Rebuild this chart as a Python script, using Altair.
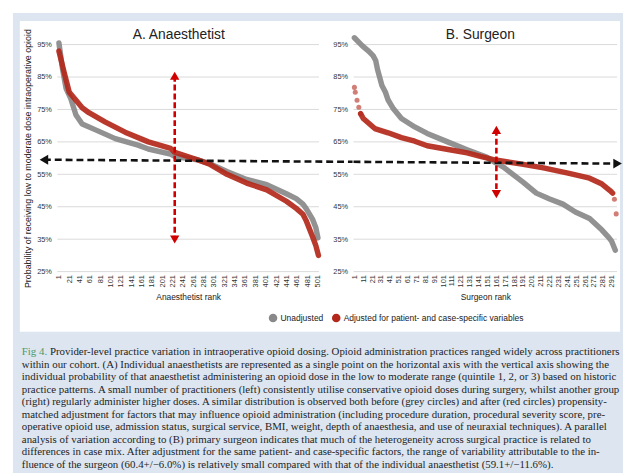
import altair as alt
import pandas as pd

# ---------------- data ----------------
SERIES = ["Unadjusted", "Adjusted for patient- and case-specific variables"]
SERIES_COLORS = ["#898989", "#b3281b"]

grid_pct = [25, 35, 45, 55, 65, 75, 85, 95]

anaes_ticks = [1, 21, 41, 61, 81, 101, 121, 141, 161, 181, 201, 221, 241, 261,
               281, 301, 321, 341, 361, 381, 401, 421, 441, 461, 481, 501]
surg_ticks = [1, 11, 21, 31, 41, 51, 61, 71, 81, 91, 101, 111, 121, 131, 141,
              151, 161, 171, 181, 191, 201, 211, 221, 231, 241, 251, 261, 271, 281, 291]

# A. Anaesthetist
anaes_unadj_rank = [1, 8, 15, 24, 34, 46, 72, 110, 154, 174, 217, 225, 269, 294,
                    326, 364, 403, 441, 460, 473, 479, 492, 498, 502]
anaes_unadj_pct = [95.5, 87.5, 81.4, 78.3, 73.3, 70.5, 68.7, 66.0, 64.0, 62.8, 61.2,
                   60.5, 59.5, 58.2, 55.9, 53.4, 51.8, 49.0, 47.5, 45.8, 44.5, 41.0,
                   38.5, 35.4]
anaes_adj_rank = [1, 11, 21, 34, 46, 59, 91, 129, 174, 217, 225, 269, 294, 326, 364,
                  403, 441, 460, 473, 479, 492, 498, 503]
anaes_adj_pct = [93.0, 86.5, 80.3, 77.8, 75.5, 74.0, 71.1, 68.0, 65.0, 63.0, 61.8,
                 59.5, 58.0, 55.0, 52.3, 50.2, 46.7, 44.5, 42.7, 40.8, 35.6, 33.0, 30.0]

# B. Surgeon
surg_unadj_rank = [1, 10, 17, 22, 25, 27, 32, 36, 39, 45, 54, 69, 83, 106, 128, 143,
                   150, 160, 169, 177, 191, 206, 221, 236, 250, 266, 280, 288, 291, 295]
surg_unadj_pct = [97.1, 94.6, 93.0, 91.6, 90.1, 87.4, 82.4, 80.3, 77.9, 75.2, 72.2,
                  69.6, 67.6, 65.0, 62.6, 61.0, 60.3, 58.6, 57.2, 55.5, 52.6, 49.2,
                  47.4, 45.8, 43.4, 41.4, 37.8, 35.4, 34.3, 31.6]
surg_adj_rank = [8, 11, 24, 39, 54, 69, 83, 110, 128, 143, 160, 188, 214, 243, 266,
                 280, 289, 292]
surg_adj_pct = [73.7, 72.2, 69.1, 67.8, 66.3, 65.2, 63.8, 62.5, 61.6, 60.5, 59.4,
                58.2, 57.0, 55.3, 53.8, 52.0, 50.0, 49.2]
surg_adj_tail_rank = [1, 2, 4, 6, 8, 294, 296]
surg_adj_tail_pct = [81.8, 80.3, 77.8, 75.7, 73.7, 47.3, 42.8]

# annotation arrows (spread of the adjusted values, overall mean)
anaes_spread = {"rank": 225, "top": 85.4, "bottom": 34.9}
surg_spread = {"rank": 161, "top": 68.7, "bottom": 48.9}
mean_a = {"rank": -28, "rank_end": 569, "pct": 59.5, "pct_end": 58.85}
mean_b = {"rank": 0, "rank_end": 297.6, "pct": 58.85, "pct_end": 58.3}

title_a = "A. Anaesthetist"
title_b = "B. Surgeon"
x_title_a = "Anaesthetist rank"
x_title_b = "Surgeon rank"
y_title = "Probability of receiving low to moderate dose intraoperative opioid"

caption_fig = "Fig 4."
caption_first = ("Provider-level practice variation in intraoperative opioid dosing. "
                 "Opioid administration practices ranged widely across practitioners")
caption_rest = [
    "within our cohort. (A) Individual anaesthetists are represented as a single point on the horizontal axis with the vertical axis showing the",
    "individual probability of that anaesthetist administering an opioid dose in the low to moderate range (quintile 1, 2, or 3) based on historic",
    "practice patterns. A small number of practitioners (left) consistently utilise conservative opioid doses during surgery, whilst another group",
    "(right) regularly administer higher doses. A similar distribution is observed both before (grey circles) and after (red circles) propensity-",
    "matched adjustment for factors that may influence opioid administration (including procedure duration, procedural severity score, pre-",
    "operative opioid use, admission status, surgical service, BMI, weight, depth of anaesthesia, and use of neuraxial techniques). A parallel",
    "analysis of variation according to (B) primary surgeon indicates that much of the heterogeneity across surgical practice is related to",
    "differences in case mix. After adjustment for the same patient- and case-specific factors, the range of variability attributable to the in-",
    "fluence of the surgeon (60.4+/\u22126.0%) is relatively small compared with that of the individual anaesthetist (59.1+/\u221211.6%).",
]

# ---------------- helpers ----------------
FONT = "Liberation Sans"
CAP_FONT = "Liberation Serif"
CAP_SIZE = 11
W_A, W_B, H = 265, 267, 230
one = pd.DataFrame({"k": [0]})
color_scale = alt.Scale(domain=SERIES, range=SERIES_COLORS)


def curve_df(ranks, pcts, name):
    return pd.DataFrame({"rank": ranks, "pct": pcts, "series": [name] * len(ranks)})


def x_enc(dom, ticks, title):
    return alt.X("rank:Q", scale=alt.Scale(domain=dom, nice=False, zero=False),
                 axis=alt.Axis(values=ticks, title=title, labelAngle=270,
                               labelOverlap=False, labelFlush=False, grid=False,
                               ticks=False, domain=False, labelFontSize=7.5,
                               labelColor="#333333", labelPadding=3,
                               titleFontSize=8.5, titlePadding=6, zindex=1,
                               titleColor="#222222", titleFontWeight="normal"))


def y_enc(title):
    return alt.Y("pct:Q", scale=alt.Scale(domain=[25, 95], nice=False, zero=False),
                 axis=alt.Axis(values=grid_pct, labelExpr="datum.value + '%'",
                               title=title, grid=False, ticks=False, domain=False,
                               labelFontSize=7.5, labelColor="#333333", labelPadding=6,
                               titleFontSize=9, titlePadding=4, titleColor="#222222",
                               titleFontWeight="normal", zindex=1))


def panel_layers(X, Y, width, unadj, adj, spread, mean, head_shape, head_rank, head_pct,
                 title, title_dx):
    grid = alt.Chart(pd.DataFrame({"pct": grid_pct})).mark_rule(
        color="#d9d9d9", strokeWidth=1).encode(y=Y, x=alt.value(0), x2=alt.value(width))
    grey = alt.Chart(unadj).mark_line(strokeWidth=5.5, strokeCap="round",
                                      strokeJoin="round", opacity=0.92, clip=False).encode(
        x=X, y=Y, color=alt.value(SERIES_COLORS[0]))
    red = alt.Chart(adj).mark_line(strokeWidth=5.5, strokeCap="round",
                                   strokeJoin="round", opacity=0.92, clip=False).encode(
        x=X, y=Y, color=alt.value(SERIES_COLORS[1]))
    mdf = pd.DataFrame({"rank": [mean["rank"]], "rank_end": [mean["rank_end"]],
                        "pct": [mean["pct"]], "pct_end": [mean["pct_end"]]})
    mean_rule = alt.Chart(mdf).mark_rule(color="#111111", strokeWidth=2.6,
                                         strokeDash=[7, 4], clip=False).encode(
        x=X, x2="rank_end:Q", y=Y, y2="pct_end:Q")
    hdf = pd.DataFrame({"rank": [head_rank], "pct": [head_pct]})
    mean_head = alt.Chart(hdf).mark_point(shape=head_shape, filled=True, size=100,
                                          color="#111111", opacity=1, clip=False).encode(x=X, y=Y)
    sdf = pd.DataFrame({"rank": [spread["rank"]], "pct": [spread["top"]],
                        "pct_end": [spread["bottom"]]})
    spread_rule = alt.Chart(sdf).mark_rule(color="#d10000", strokeWidth=2.6,
                                           strokeDash=[6, 3], clip=False).encode(
        x=X, y=Y, y2="pct_end:Q")
    sh = pd.DataFrame({"rank": [spread["rank"], spread["rank"]],
                       "pct": [spread["top"], spread["bottom"]],
                       "shape": ["triangle-up", "triangle-down"]})
    spread_heads = alt.Chart(sh).mark_point(filled=True, size=90, color="#d10000",
                                            opacity=1, clip=False).encode(
        x=X, y=Y, shape=alt.Shape("shape:N", scale=None))
    ttl = alt.Chart(one).mark_text(text=title, font=FONT, fontSize=14, color="#222222",
                                   align="center", baseline="alphabetic").encode(
        x=alt.value(width / 2 + title_dx), y=alt.value(-5.5))
    return grid, grey, red, mean_rule, mean_head, spread_rule, spread_heads, ttl


# ---------------- panel A ----------------
XA = x_enc([-2, 504], anaes_ticks, x_title_a)
YA = y_enc(y_title)
bg_blue = alt.Chart(one).mark_rect(color="#dce5f0").encode(
    x=alt.value(-45), x2=alt.value(573), y=alt.value(-32), y2=alt.value(434))
bg_white = alt.Chart(one).mark_rect(color="#ffffff").encode(
    x=alt.value(-38), x2=alt.value(570), y=alt.value(-24), y2=alt.value(291))

la = panel_layers(XA, YA, W_A,
                  curve_df(anaes_unadj_rank, anaes_unadj_pct, SERIES[0]),
                  curve_df(anaes_adj_rank, anaes_adj_pct, SERIES[1]),
                  anaes_spread, mean_a, "triangle-left", mean_a["rank"], mean_a["pct"],
                  title_a, -9.5)

cap_fig = alt.Chart(one).mark_text(text=caption_fig, font=CAP_FONT, fontSize=CAP_SIZE,
                                   color="#4d9a68", align="left", baseline="alphabetic").encode(
    x=alt.value(-36), y=alt.value(314.5))
cap_first = alt.Chart(one).mark_text(text=caption_first, font=CAP_FONT, fontSize=CAP_SIZE,
                                     color="#1e1e1e", align="left", baseline="alphabetic").encode(
    x=alt.value(-7.5), y=alt.value(314.5))
cap_rest = alt.Chart(one).mark_text(text=caption_rest, font=CAP_FONT, fontSize=CAP_SIZE,
                                    lineHeight=12.67, color="#1e1e1e", align="left",
                                    baseline="alphabetic").encode(
    x=alt.value(-36), y=alt.value(327.2))

panel_a = alt.layer(bg_blue, bg_white, *la, cap_fig, cap_first, cap_rest).properties(
    width=W_A, height=H)

# ---------------- panel B ----------------
XB = x_enc([0, 297], surg_ticks, x_title_b)
YB = y_enc(None)
lb = panel_layers(XB, YB, W_B,
                  curve_df(surg_unadj_rank, surg_unadj_pct, SERIES[0]),
                  curve_df(surg_adj_rank, surg_adj_pct, SERIES[1]),
                  surg_spread, mean_b, "triangle-right", mean_b["rank_end"], mean_b["pct_end"],
                  title_b, -5)

tails = alt.Chart(curve_df(surg_adj_tail_rank, surg_adj_tail_pct, SERIES[1])).mark_circle(
    size=26, opacity=0.6, clip=False).encode(
    x=XB, y=YB,
    color=alt.Color("series:N", scale=color_scale,
                    legend=alt.Legend(orient="none", legendX=-86, legendY=272,
                                      direction="horizontal", title=None, symbolType="circle",
                                      symbolSize=75, symbolOpacity=1, symbolStrokeWidth=0,
                                      labelFont=FONT, labelFontSize=8.6, labelColor="#222222",
                                      labelOffset=3, columnPadding=8, padding=0,
                                      labelLimit=400)))

panel_b = alt.layer(lb[0], lb[1], lb[2], tails, *lb[3:]).properties(width=W_B, height=H)

chart = alt.hconcat(panel_a, panel_b, spacing=35, bounds="flush").resolve_legend(
    color="independent").properties(
    padding={"left": 5, "top": 2, "right": 0, "bottom": 0}).configure(
    background="#ffffff").configure_view(stroke=None).configure_axis(
    labelFont=FONT, titleFont=FONT)

chart.save("out.html", embed_options={"renderer": "svg", "actions": False})
